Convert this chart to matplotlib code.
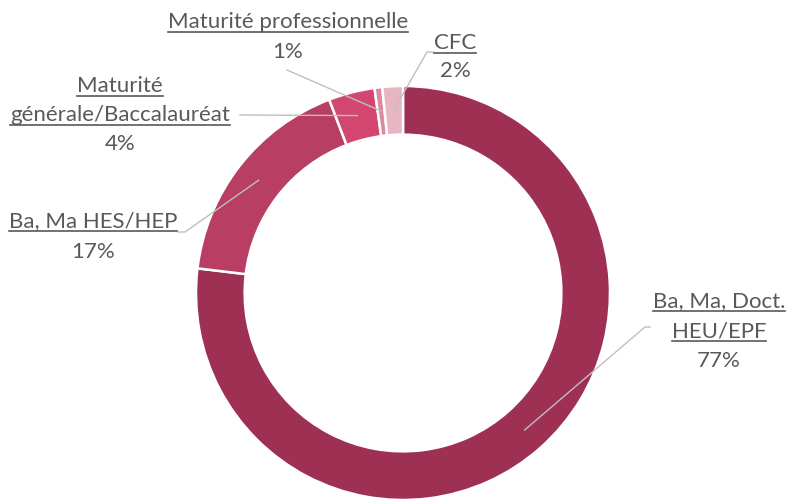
import matplotlib
matplotlib.use("Agg")
import matplotlib.pyplot as plt
from matplotlib.lines import Line2D
import numpy as np

categories = ["Ba, Ma, Doct.\nHEU/EPF", "Ba, Ma HES/HEP", "Maturité\ngénérale/Baccalauréat",
              "Maturité professionnelle", "CFC"]
values = [76.9, 17.3, 3.6, 0.6, 1.6]
colors = ["#9E3054", "#B83E63", "#D2466F", "#DB8AA2", "#E8B5C2"]

# layout (pixels in the 789x499 image)
W, H = 789, 499
CX, CY, R = 403, 293, 207
# label center x, first baseline y
label_pos = [(719, 307), (93, 227), (120, 92), (288, 28), (455, 49)]
line_step = [30, 31, 29, 30, 28]
leader_end = [[(650, 327), (645, 327)], [(178, 232), (185, 232)], [(240, 115)],
              [(287, 70)], [(433, 52), (427, 52)]]

TXT = "#595959"
LEAD = "#BFBFBF"
plt.rcParams['font.family'] = ['Lato', 'DejaVu Sans']
FS = 16

def p2d(px, py):
    return (px - CX) / R, (CY - py) / R

fig = plt.figure(figsize=(W / 100, H / 100), dpi=100)
ax = fig.add_axes([0, 0, 1, 1])
ax.pie(values, colors=colors, startangle=90, counterclock=False, radius=1,
       wedgeprops=dict(width=0.235, edgecolor="white", linewidth=1.8))
ax.set_xlim(-CX / R, (W - CX) / R)
ax.set_ylim(-(H - CY) / R, CY / R)
ax.set_aspect("equal")
ax.axis("off")

# leader lines
cum = np.cumsum([0] + values)
total = cum[-1]
for i, v in enumerate(values):
    mid = (cum[i] + cum[i + 1]) / 2 / total
    theta = np.deg2rad(90 - mid * 360)
    ax_x, ax_y = 0.885 * np.cos(theta), 0.885 * np.sin(theta)
    pts = [p2d(*p) for p in leader_end[i]] + [(ax_x, ax_y)]
    xs, ys = zip(*pts)
    ax.plot(xs, ys, color=LEAD, lw=1.0, zorder=5)

texts_ul = []
for i, cat in enumerate(categories):
    cx, by = label_pos[i]
    lines = cat.split("\n")
    for j, ln in enumerate(lines):
        x, y = p2d(cx, by + j * line_step[i])
        t = ax.text(x, y, ln, ha="center", va="baseline", fontsize=FS, color=TXT)
        texts_ul.append((t, by + j * line_step[i]))
    x, y = p2d(cx, by + len(lines) * line_step[i])
    ax.text(x, y, f"{round(values[i])}%", ha="center", va="baseline", fontsize=FS, color=TXT)

fig.canvas.draw()
r = fig.canvas.get_renderer()
for t, by in texts_ul:
    bb = t.get_window_extent(r)
    yy = (H - by - 3.5) / H
    fig.add_artist(Line2D([bb.x0 / W, bb.x1 / W], [yy, yy], transform=fig.transFigure,
                          color=TXT, lw=1.2))

fig.savefig("out.png", dpi=100)
